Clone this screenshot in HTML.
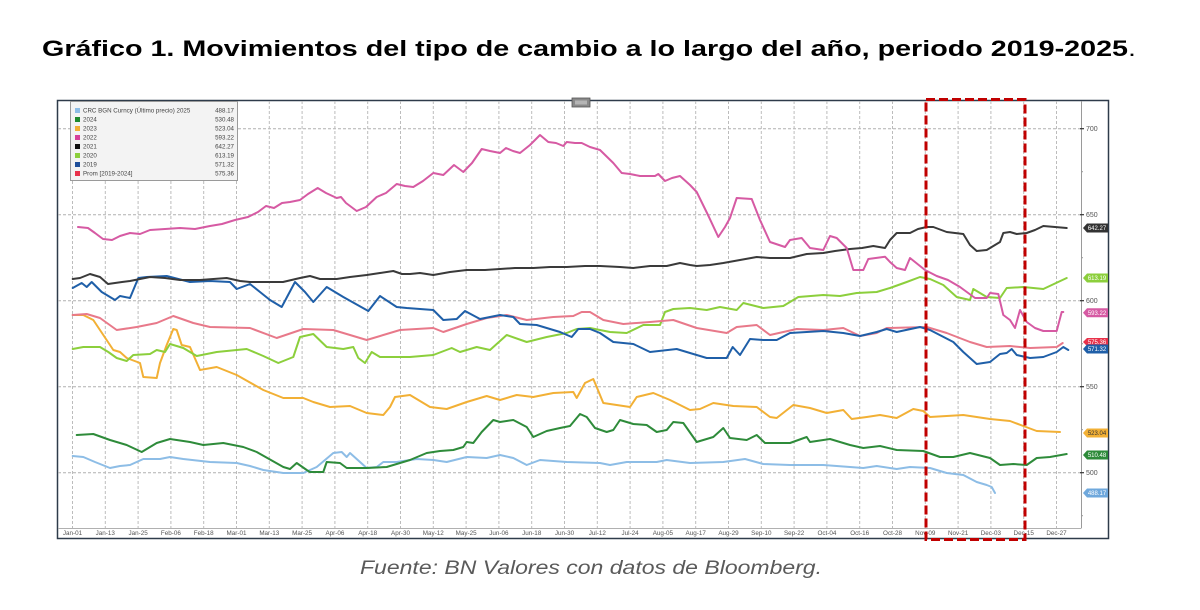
<!DOCTYPE html>
<html><head><meta charset="utf-8"><style>
html,body{margin:0;padding:0;background:#fff;}
svg{display:block;}
</style></head><body>
<svg width="1200" height="610" viewBox="0 0 1200 610" xmlns="http://www.w3.org/2000/svg" font-family="Liberation Sans, sans-serif">
<rect width="1200" height="610" fill="#fff"/>
<text x="42" y="56" font-size="22.5" font-weight="bold" fill="#000" textLength="1094" lengthAdjust="spacingAndGlyphs">Gráfico 1. Movimientos del tipo de cambio a lo largo del año, periodo 2019-2025<tspan font-weight="normal">.</tspan></text>

<!-- chart frame -->
<rect x="57.5" y="100.5" width="1051" height="438" fill="#fff" stroke="#2e3b4a" stroke-width="1.5"/>
<!-- grid horizontal -->
<g stroke="#b0b0b0" stroke-width="1" stroke-dasharray="3,2">
<line x1="58" y1="128.7" x2="1081" y2="128.7"/>
<line x1="58" y1="214.7" x2="1081" y2="214.7"/>
<line x1="58" y1="300.7" x2="1081" y2="300.7"/>
<line x1="58" y1="386.7" x2="1081" y2="386.7"/>
<line x1="58" y1="472.7" x2="1081" y2="472.7"/>
</g>
<!-- grid vertical -->
<g stroke="#bcbcbc" stroke-width="1" stroke-dasharray="3,2">
<line x1="72.5" y1="101" x2="72.5" y2="528"/><line x1="105.3" y1="101" x2="105.3" y2="528"/><line x1="138.1" y1="101" x2="138.1" y2="528"/><line x1="170.9" y1="101" x2="170.9" y2="528"/><line x1="203.7" y1="101" x2="203.7" y2="528"/><line x1="236.5" y1="101" x2="236.5" y2="528"/><line x1="269.3" y1="101" x2="269.3" y2="528"/><line x1="302.1" y1="101" x2="302.1" y2="528"/><line x1="334.9" y1="101" x2="334.9" y2="528"/><line x1="367.7" y1="101" x2="367.7" y2="528"/><line x1="400.5" y1="101" x2="400.5" y2="528"/><line x1="433.3" y1="101" x2="433.3" y2="528"/><line x1="466.1" y1="101" x2="466.1" y2="528"/><line x1="498.9" y1="101" x2="498.9" y2="528"/><line x1="531.7" y1="101" x2="531.7" y2="528"/><line x1="564.5" y1="101" x2="564.5" y2="528"/><line x1="597.3" y1="101" x2="597.3" y2="528"/><line x1="630.1" y1="101" x2="630.1" y2="528"/><line x1="662.9" y1="101" x2="662.9" y2="528"/><line x1="695.7" y1="101" x2="695.7" y2="528"/><line x1="728.5" y1="101" x2="728.5" y2="528"/><line x1="761.3" y1="101" x2="761.3" y2="528"/><line x1="794.1" y1="101" x2="794.1" y2="528"/><line x1="826.9" y1="101" x2="826.9" y2="528"/><line x1="859.7" y1="101" x2="859.7" y2="528"/><line x1="892.5" y1="101" x2="892.5" y2="528"/><line x1="925.3" y1="101" x2="925.3" y2="528"/><line x1="958.1" y1="101" x2="958.1" y2="528"/><line x1="990.9" y1="101" x2="990.9" y2="528"/><line x1="1023.7" y1="101" x2="1023.7" y2="528"/><line x1="1056.5" y1="101" x2="1056.5" y2="528"/>
</g>
<!-- axes -->
<line x1="1081.5" y1="101" x2="1081.5" y2="528" stroke="#9a9a9a" stroke-width="1"/>
<line x1="58" y1="528.5" x2="1081.5" y2="528.5" stroke="#b0b0b0" stroke-width="1"/>
<g stroke="#333" stroke-width="1.2">
<line x1="1080" y1="128.7" x2="1084" y2="128.7"/><line x1="1080" y1="214.7" x2="1084" y2="214.7"/><line x1="1080" y1="300.7" x2="1084" y2="300.7"/><line x1="1080" y1="386.7" x2="1084" y2="386.7"/><line x1="1080" y1="472.7" x2="1084" y2="472.7"/>
</g>
<g stroke="#999" stroke-width="1">
<line x1="1081" y1="171.7" x2="1083" y2="171.7"/><line x1="1081" y1="257.7" x2="1083" y2="257.7"/><line x1="1081" y1="343.7" x2="1083" y2="343.7"/><line x1="1081" y1="429.7" x2="1083" y2="429.7"/><line x1="1081" y1="515.7" x2="1083" y2="515.7"/>
</g>
<g font-size="7" fill="#555">
<text x="1086" y="131.2">700</text><text x="1086" y="217.2">650</text><text x="1086" y="303.2">600</text><text x="1086" y="389.2">550</text><text x="1086" y="475.2">500</text>
</g>
<g font-size="6.3" fill="#555" text-anchor="middle">
<text x="72.5" y="535">Jan-01</text><text x="105.3" y="535">Jan-13</text><text x="138.1" y="535">Jan-25</text><text x="170.9" y="535">Feb-06</text><text x="203.7" y="535">Feb-18</text><text x="236.5" y="535">Mar-01</text><text x="269.3" y="535">Mar-13</text><text x="302.1" y="535">Mar-25</text><text x="334.9" y="535">Apr-06</text><text x="367.7" y="535">Apr-18</text><text x="400.5" y="535">Apr-30</text><text x="433.3" y="535">May-12</text><text x="466.1" y="535">May-25</text><text x="498.9" y="535">Jun-06</text><text x="531.7" y="535">Jun-18</text><text x="564.5" y="535">Jun-30</text><text x="597.3" y="535">Jul-12</text><text x="630.1" y="535">Jul-24</text><text x="662.9" y="535">Aug-05</text><text x="695.7" y="535">Aug-17</text><text x="728.5" y="535">Aug-29</text><text x="761.3" y="535">Sep-10</text><text x="794.1" y="535">Sep-22</text><text x="826.9" y="535">Oct-04</text><text x="859.7" y="535">Oct-16</text><text x="892.5" y="535">Oct-28</text><text x="925.3" y="535">Nov-09</text><text x="958.1" y="535">Nov-21</text><text x="990.9" y="535">Dec-03</text><text x="1023.7" y="535">Dec-15</text><text x="1056.5" y="535">Dec-27</text>
</g>

<!-- small button -->
<rect x="572" y="98" width="18" height="9" fill="#8a8a8a" stroke="#555" stroke-width="0.8"/>
<rect x="575" y="100.5" width="12" height="4" fill="#b5b5b5"/>

<!-- series -->
<g fill="none" stroke-width="2" stroke-linejoin="round" stroke-linecap="round">
<polyline stroke="#8dbde6" points="72.7,456 83.3,457 95,462 110,468 120,466 130,465 143.3,459 160,459 170,457 183.3,459 210,462 236.7,463 250,466 263.3,470 283.3,473 303.3,473 316.7,467 333.3,453 341.7,452 346.7,457 350,453 366.7,468 376.7,467 383.3,462 396.7,462 416.7,459 433.3,460 446.7,462 466.7,457 486.7,458 500,455 513.3,458 526.7,465 540,460 566.7,462 600,463 610,465 626.7,462 656.7,462 666.7,460 690,463 723.3,462 745,459 763.3,464 790,465 823.3,465 850,467 863.3,468 876.7,466 896.7,469 910,467 930,468 946.7,473 963.3,475 976.7,482 986.7,485 991.7,487 995,493"/>
<polyline stroke="#2e8b3a" points="76.7,435 93.3,434 110,440 126.7,445 141.7,452 156.7,443 170,439 190,442 203.3,445 223.3,443 243.3,447 256.7,452 283.3,467 290,469 296.7,463 306.7,470 310,472 323.3,472 326.7,462 340,463 346.7,468 366.7,468 386.7,467 410,460 426.7,453 440,451 453.3,450 463.3,447 466.7,442 473.3,443 481.7,432 493.3,420 500,422 513.3,420 526.7,427 533.3,437 546.7,431 560,428 570,426 580,414 586.7,417 595,428 606.7,432 613.3,430 620,420 633.3,424 646.7,425 656.7,432 666.7,430 673.3,422 683.3,423 696.7,442 713.3,437 723.3,428 730,438 746.7,440 756.7,435 765,443 790,443 806.7,437 810,442 830,439 850,445 863.3,448 880,446 896.7,450 923.3,451 940,457 953.3,457 970,453 990,458 1000,465 1013.3,464 1026.7,465 1036.7,458 1050,457 1066.7,454"/>
<polyline stroke="#f2b035" points="72.7,315 83.3,315 93.3,320 103.3,335 113.3,350 120,352 126.7,358 140,363 143.3,377 156.7,378 160,363 166.7,345 173.3,329 176.7,330 181.7,345 190,347 200,370 216.7,367 236.7,375 263.3,390 283.3,398 303.3,398 313.3,402 330,407 350,406 366.7,413 383.3,415 390,407 395,397 410,395 430,407 446.7,409 466.7,402 486.7,396 500,400 516.7,395 533.3,397 553.3,393 573.3,392 576.7,398 585,383 593.3,379 596.7,387 603.3,403 616.7,405 630,407 636.7,397 653.3,393 670,400 690,410 700,409 713.3,403 733.3,406 756.7,407 770,417 776.7,418 793.3,405 810,408 826.7,413 843.3,410 851.7,419 866.7,417 880,415 896.7,418 913.3,409 923.3,411 930,417 963.3,415 990,419 1010,421 1023.3,426 1036.7,431 1060,432"/>
<polyline stroke="#8ccf3c" points="72.7,349 83.3,347 100,347 108.3,352 116.7,358 126.7,361 133.3,355 150,354 156.7,350 165,352 170,344 183.3,348 196.7,356 216.7,352 246.7,349 263.3,356 278.3,363 293.3,357 300,337 313.3,334 326.7,347 343.3,349 353.3,347 358.3,358 365,363 371.7,352 380,357 410,357 433.3,355 451.7,348 460,352 476.7,347 490,350 506.7,335 526.7,342 546.7,337 566.7,333 576.7,329 590,328 610,332 626.7,333 643.3,325 660,325 665,312 673.3,309 690,308 706.7,310 720,307 736.7,310 743.3,303 763.3,308 783.3,306 798.3,297 823.3,295 840,296 856.7,293 876.7,292 890,288 906.7,282 920,277 930,279 943.3,285 956.7,297 970,300 973.3,289 986.7,297 1000,298 1006.7,288 1023.3,287 1043.3,289 1066.7,278"/>
<polyline stroke="#e8798a" points="72.7,315 86.7,314 100,318 116.7,330 136.7,327 156.7,323 173.3,316 193.3,323 210,327 250,328 276.7,338 303.3,329 333.3,330 366.7,340 400,330 433.3,328 443.3,332 466.7,324 486.7,318 506.7,315 526.7,320 553.3,317 573.3,316 581.7,312 590,312 603.3,320 623.3,324 650,322 673.3,320 696.7,328 726.7,333 736.7,327 756.7,325 770,335 796.7,329 823.3,330 843.3,328 860,336 876.7,333 886.7,328 926.7,327 946.7,333 970,342 986.7,347 1010,346 1030,348 1056.7,347 1062.7,343"/>
<polyline stroke="#1f5fa8" points="72.7,288 81.7,283 86.7,287 91.7,282 101.7,292 115,300 120,296 130,298 138.3,278 146.7,277 166.7,276 190,282 210,281 230,282 236.7,289 250,284 260,292 270,300 281.7,307 295,282 305,292 313.3,302 326.7,287 343.3,297 368.3,311 380,296 396.7,307 406.7,308 433.3,310 443.3,320 456.7,319 465,311 480,319 500,315 513.3,317 520,324 536.7,325 560,332 571.7,337 578.3,329 590,329 600,333 613.3,342 633.3,344 650,352 676.7,349 690,353 706.7,358 726.7,358 732.7,347 740,355 750,339 763.3,340 776.7,340 790,333 806.7,332 823.3,331 843.3,333 860,336 876.7,332 886.7,329 896.7,332 920,327 930,330 953.3,342 963.3,352 976.7,364 990,362 1000,354 1006.7,353 1011.7,349 1016.7,355 1030,358 1043.3,357 1056.7,352 1063.3,347 1068.3,350"/>
<polyline stroke="#3a3a3a" points="72.7,279 80,278 90,274 100,277 108,284 115,283 122,282 130,281 150,277 165,278 180,280 200,280 226.7,278 240,281 250,282 265,282 283,282 300,278 310,276 320,279 336.7,279 350,277 366.7,275 380,273 393.3,271 402,274 410,274 420,273 433.3,275 450,272 466.7,270 485,270 500,269 515,268 533.3,268 550,267 566.7,267 585,266 600,266 620,267 633.3,268 650,266 666.7,266 680,263 690,265 696.7,266 710,265 723.3,263 740,260 756.7,257 770,258 790,258 806.7,254 823.3,253 835,251 850,249 862,248 873.3,246 885,248 890,240 896.7,233 910,233 918,229 926.7,227 933.3,227 946.7,232 963.3,234 970,245 976.7,251 986.7,250 1000,242 1003.3,233 1010,232 1016.7,234 1026.7,233 1035,230 1043.3,226 1066.7,228"/>
<polyline stroke="#d65aa3" points="78,227 88,228 95,233 103,239 112,240 120,236 130,233 140,234 150,230 165,229 180,228 195,229 210,226 222,224 235,220 248,217 258,212 266,206 274,208 282,203 290,202 300,200 308,194 317.7,188 326,193 336.7,198 341,197 346,203 356.7,211 366,207 376.7,197 386,193 396.7,184 405,186 413.3,187 423,181 433.3,173 443.3,175 454,165 463.3,172 472,163 481.7,149 490,151 500,153 506,148 513,151 520,153 530,145 540,135 548.3,142 556,143 563.3,146 566.7,142 575,143 581.7,143 590,147 600,150 613.3,163 621.7,173 630,174 640,176 650,176 655,176 658.3,174 665,181 672,178 680,176 690,185 696.7,192 708,215 718.3,237 725,227 730,218 736.7,198 751.7,199 760,220 770,242 785,247 790,240 801.7,238 810,248 823.3,250 830,236 836.7,238 846.7,248 853.3,270 863.3,270 868.3,259 885,256.7 890,262 896.7,268 905,270 910,258 925,270 936.7,276 948,280 960,287 975,298 986.7,298 990,293 998.3,294 1003.3,315 1010,320 1015,328 1020,310 1026.7,322 1035,328 1043.3,331 1056.7,331 1061.7,312 1063.3,312"/>
</g>

<!-- right value tags -->
<g font-size="6" text-anchor="middle">
<path d="M1083,228 L1087,223.5 L1108,223.5 L1108,232.5 L1087,232.5 Z" fill="#333"/><text x="1097" y="230.2" fill="#fff">642.27</text>
<path d="M1083,278 L1087,273.5 L1108,273.5 L1108,282.5 L1087,282.5 Z" fill="#8ccf3c"/><text x="1097" y="280.2" fill="#fff">613.19</text>
<path d="M1083,312.7 L1087,308.2 L1108,308.2 L1108,317.2 L1087,317.2 Z" fill="#d65aa3"/><text x="1097" y="314.9" fill="#fff">593.22</text>
<path d="M1083,342 L1087,338 L1108,338 L1108,346 L1087,346 Z" fill="#e8314a"/><text x="1097" y="344" fill="#fff">575.36</text>
<path d="M1083,349 L1087,344.5 L1108,344.5 L1108,353.5 L1087,353.5 Z" fill="#1f5fa8"/><text x="1097" y="351.2" fill="#fff">571.32</text>
<path d="M1083,433 L1087,428.5 L1108,428.5 L1108,437.5 L1087,437.5 Z" fill="#f2b035"/><text x="1097" y="435.2" fill="#333">523.04</text>
<path d="M1083,455 L1087,450.5 L1108,450.5 L1108,459.5 L1087,459.5 Z" fill="#2e8b3a"/><text x="1097" y="457.2" fill="#fff">510.48</text>
<path d="M1083,493 L1087,488.5 L1108,488.5 L1108,497.5 L1087,497.5 Z" fill="#6fa8dc"/><text x="1097" y="495.2" fill="#fff">488.17</text>
</g>

<!-- legend -->
<rect x="70.5" y="101.5" width="167" height="79" fill="#f3f3f3" stroke="#9a9a9a" stroke-width="1"/>
<g font-size="6.2" fill="#444">
<rect x="75" y="108" width="5" height="5" fill="#8dbde6"/><text x="83" y="112.7">CRC BGN Curncy (Último precio) 2025</text><text x="234" y="112.7" text-anchor="end">488.17</text>
<rect x="75" y="117" width="5" height="5" fill="#1e8a2e"/><text x="83" y="121.7">2024</text><text x="234" y="121.7" text-anchor="end">530.48</text>
<rect x="75" y="126" width="5" height="5" fill="#f2b035"/><text x="83" y="130.7">2023</text><text x="234" y="130.7" text-anchor="end">523.04</text>
<rect x="75" y="135" width="5" height="5" fill="#d6409a"/><text x="83" y="139.7">2022</text><text x="234" y="139.7" text-anchor="end">593.22</text>
<rect x="75" y="144" width="5" height="5" fill="#111"/><text x="83" y="148.7">2021</text><text x="234" y="148.7" text-anchor="end">642.27</text>
<rect x="75" y="153" width="5" height="5" fill="#8ccf3c"/><text x="83" y="157.7">2020</text><text x="234" y="157.7" text-anchor="end">613.19</text>
<rect x="75" y="162" width="5" height="5" fill="#1f4f9a"/><text x="83" y="166.7">2019</text><text x="234" y="166.7" text-anchor="end">571.32</text>
<rect x="75" y="171" width="5" height="5" fill="#e8314a"/><text x="83" y="175.7">Prom  [2019-2024]</text><text x="234" y="175.7" text-anchor="end">575.36</text>
</g>

<!-- red dashed box -->
<rect x="926" y="99.5" width="99" height="440" fill="none" stroke="#c00000" stroke-width="3" stroke-dasharray="9,4"/>

<text x="591" y="574" font-size="19.5" font-style="italic" fill="#5a5a5a" text-anchor="middle" textLength="462" lengthAdjust="spacingAndGlyphs">Fuente: BN Valores con datos de Bloomberg.</text>
</svg>
</body></html>
